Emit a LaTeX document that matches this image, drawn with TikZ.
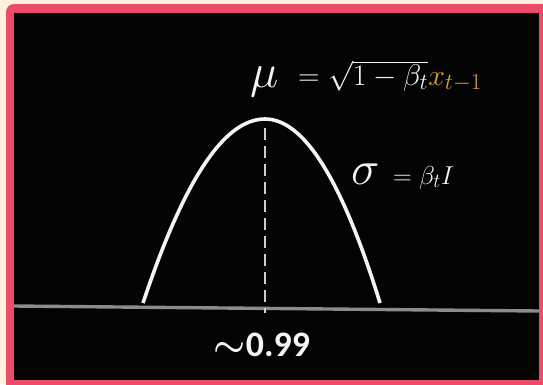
\RequirePackage{fix-cm}
\documentclass[tikz,border=0pt]{standalone}
\usepackage{fontspec}
\newfontfamily\valuefont{Carlito}
\usepackage{xcolor}
\usepackage{tikz}
\usetikzlibrary{positioning, calc}

\DeclareMathSizes{30}{30}{23}{18}
\DeclareMathSizes{26}{26}{20}{16}

\definecolor{framepink}{HTML}{EC4B6A}
\definecolor{cream}{HTML}{FEF2DE}
\definecolor{boardblack}{HTML}{040404}
\definecolor{axisgray}{HTML}{8C8C8C}
\definecolor{chalk}{HTML}{F4F4F4}
\definecolor{dashgray}{HTML}{CFCFCF}
\definecolor{gold}{HTML}{D8A62C}

\tikzset{
    eqtext/.style={text=chalk, inner sep=0pt, anchor=base west},
    bellcurve/.style={draw=chalk, line width=3.6bp},
    meanline/.style={draw=dashgray, line width=1.8bp, dash pattern=on 12bp off 6bp},
    axisline/.style={draw=axisgray, line width=3.4bp}
}

\begin{document}
\begin{tikzpicture}[x=1bp, y=-1bp]
    % frame
    \useasboundingbox (0,0) rectangle (543,384);
    \clip (0,0) rectangle (543,384);
    \fill[cream] (0,0) rectangle (543,384);
    \fill[framepink, rounded corners=8bp] (6,4) rectangle (560,400);
    \fill[boardblack] (14,13) rectangle (539,380);

    % axis and curve
    \coordinate (axl) at (14,306);
    \coordinate (axr) at (539,311);
    \coordinate (lfoot) at (143,303);
    \coordinate (peak) at (265,119);
    \coordinate (rfoot) at (380,303);
    \coordinate (peakbase) at (265,128);
    \coordinate (axmid) at (265,313);

    \draw[axisline] (axl) -- (axr);
    \draw[meanline] (peakbase) -- (axmid);
    \draw[bellcurve] (lfoot) .. controls (184,180) and (224,119) .. (peak)
        .. controls (304,119) and (342,180) .. (rfoot);

    % labels
    \node[eqtext, font=\fontsize{48}{48}\selectfont] (mu) at (250,87) {$\mu$};
    \node[eqtext, font=\fontsize{30}{30}\selectfont] (mueq) at (298,85)
        {$=\sqrt{1-\beta_t}\textcolor{gold}{x_{t-1}}$};
    \node[eqtext, font=\fontsize{48}{48}\selectfont] (sigma) at (351,184) {$\sigma$};
    \node[eqtext, font=\fontsize{26}{26}\selectfont] (sigmaeq) at (393,184) {$=\beta_t I$};
    \node[text=chalk, inner sep=0pt, anchor=base,
          font=\valuefont\bfseries\fontsize{36}{36}\selectfont] (mean) at (262,356)
        {{\boldmath$\sim$}0.99};
\end{tikzpicture}
\end{document}
